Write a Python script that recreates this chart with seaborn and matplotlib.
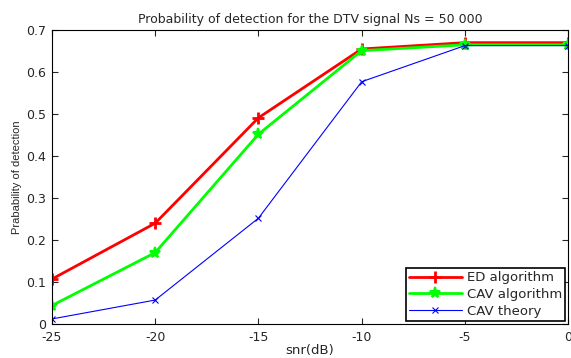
import numpy as np
import pandas as pd
import seaborn as sns
import matplotlib
matplotlib.use("Agg")
import matplotlib.pyplot as plt

snr = [-25, -20, -15, -10, -5, 0]
ed_alg = [0.107, 0.240, 0.491, 0.655, 0.670, 0.670]
cav_alg = [0.044, 0.170, 0.452, 0.651, 0.665, 0.665]
cav_theory = [0.012, 0.057, 0.252, 0.577, 0.663, 0.663]
series_names = ["ED algorithm", "CAV algorithm", "CAV theory"]
x_ticks = [-25, -20, -15, -10, -5, 0]
y_ticks = [0, 0.1, 0.2, 0.3, 0.4, 0.5, 0.6, 0.7]

df = pd.DataFrame({
    "snr": snr * 3,
    "pd": ed_alg + cav_alg + cav_theory,
    "series": sum([[n] * len(snr) for n in series_names], []),
})

sns.set_style("ticks")
plt.rcParams['font.family'] = ['DejaVu Sans']

fig = plt.figure(figsize=(5.71, 3.58), dpi=100)
ax = fig.add_axes([0.091, 0.095, 0.904, 0.821])

styles = {
    "ED algorithm": dict(color="#ff0000", marker="+", lw=2.0, ms=9, mew=2.0),
    "CAV algorithm": dict(color="#00ff00", marker="*", lw=2.0, ms=8, mew=1.5),
    "CAV theory": dict(color="#0000ff", marker="x", lw=0.8, ms=4, mew=0.8),
}
for name in series_names:
    st = styles[name]
    sub = df[df.series == name]
    sns.lineplot(data=sub, x="snr", y="pd", ax=ax, label=name,
                 color=st["color"], marker=st["marker"], linewidth=st["lw"],
                 markersize=st["ms"], markeredgewidth=st["mew"],
                 markeredgecolor=st["color"])

ax.set_xlim(-25, 0)
ax.set_ylim(0, 0.7)
ax.set_xticks(x_ticks)
ax.set_yticks(y_ticks)
ax.set_xticklabels([str(v) for v in x_ticks])
ax.set_yticklabels(["0", "0.1", "0.2", "0.3", "0.4", "0.5", "0.6", "0.7"])
ax.tick_params(direction="in", top=True, right=True, labelsize=9, length=4, width=0.8)
ax.tick_params(axis="x", pad=5)
ax.tick_params(axis="y", pad=4)
for s in ax.spines.values():
    s.set_linewidth(0.8)
    s.set_color("black")

ax.set_title("Probability of detection for the DTV signal Ns = 50 000", fontsize=9, pad=5)
ax.set_xlabel("snr(dB)", fontsize=9.5, labelpad=0)
ax.set_ylabel("Prabability of detection", fontsize=8, labelpad=3,
              family=['Liberation Sans', 'DejaVu Sans'])

leg = ax.legend(loc="lower right", fontsize=9.5, frameon=True, fancybox=False,
                edgecolor="black", borderaxespad=0.25, handlelength=4.0,
                handletextpad=0.4, labelspacing=0.3, borderpad=0.2)
leg.get_frame().set_linewidth(1.2)
leg.get_frame().set_alpha(1)

fig.savefig("out.png", dpi=100)
